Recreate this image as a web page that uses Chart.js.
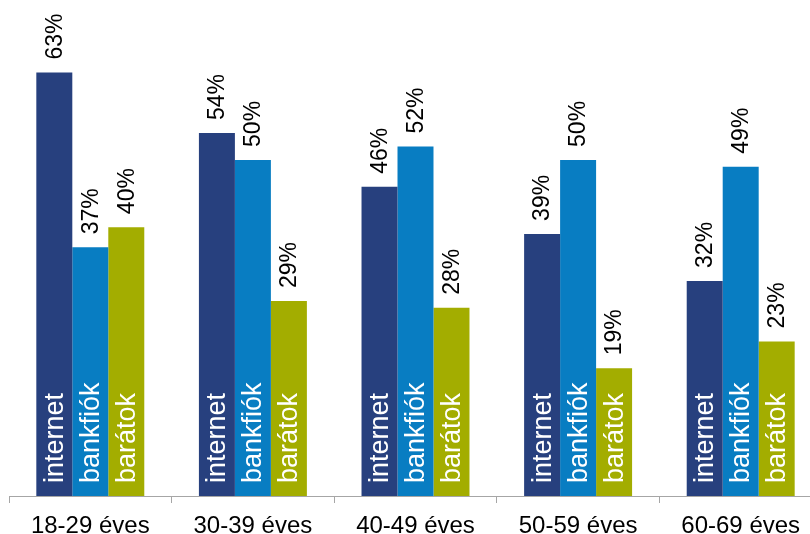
<!DOCTYPE html>
<html lang="hu">
<head>
  <meta charset="UTF-8">
  <title>Csatornák korcsoport szerint</title>
  <script src="https://cdn.jsdelivr.net/npm/chart.js"></script>
  <style>
    html, body {
      margin: 0;
      padding: 0;
      background: #fff;
      overflow: hidden;
    }
    /* a bit larger than the window: the last category runs past the right edge */
    #wrap {
      position: relative;
      width: 822px;
      height: 549px;
    }
  </style>
</head>
<body>
  <div id="wrap"><canvas id="chart"></canvas></div>

  <script>
    const categories = ['18-29 éves', '30-39 éves', '40-49 éves', '50-59 éves', '60-69 éves'];
    const seriesNames = ['internet', 'bankfiók', 'barátok'];
    const internetValues = [63, 54, 46, 39, 32];
    const bankfiokValues = [37, 50, 52, 50, 49];
    const baratokValues = [40, 29, 28, 19, 23];
    const seriesColors = ['#27407E', '#087DC2', '#A3AD00'];

    const fontFamily = 'Arial, "Liberation Sans", sans-serif';

    // percent labels above bars and series names inside bars, both rotated
    const barLabels = {
      id: 'barLabels',
      afterDatasetsDraw(chart) {
        const ctx = chart.ctx;
        chart.data.datasets.forEach((ds, i) => {
          const meta = chart.getDatasetMeta(i);
          meta.data.forEach((bar, j) => {
            ctx.save();
            ctx.translate(bar.x, bar.y - 13);
            ctx.rotate(-Math.PI / 2);
            ctx.font = '23px ' + fontFamily;
            ctx.fillStyle = '#000';
            ctx.textAlign = 'left';
            ctx.textBaseline = 'middle';
            ctx.fillText(ds.data[j] + '%', 0, 1);
            ctx.restore();

            ctx.save();
            ctx.translate(bar.x, bar.base - 13);
            ctx.rotate(-Math.PI / 2);
            ctx.font = '27px ' + fontFamily;
            ctx.fillStyle = '#fff';
            ctx.textAlign = 'left';
            ctx.textBaseline = 'middle';
            ctx.fillText(ds.label, 0, 1);
            ctx.restore();
          });
        });
      }
    };

    new Chart(document.getElementById('chart'), {
      type: 'bar',
      data: {
        labels: categories,
        datasets: [
          { label: seriesNames[0], data: internetValues, backgroundColor: seriesColors[0] },
          { label: seriesNames[1], data: bankfiokValues, backgroundColor: seriesColors[1] },
          { label: seriesNames[2], data: baratokValues, backgroundColor: seriesColors[2] }
        ]
      },
      options: {
        responsive: true,
        maintainAspectRatio: false,
        animation: false,
        layout: { padding: { left: 9, right: 0, top: 0, bottom: 0 } },
        datasets: {
          bar: { categoryPercentage: 0.664, barPercentage: 1 }
        },
        plugins: {
          legend: { display: false },
          tooltip: { enabled: false }
        },
        scales: {
          x: {
            grid: {
              display: true,
              drawOnChartArea: false,
              tickLength: 7,
              color: '#A6A6A6'
            },
            border: { display: true, color: '#A6A6A6', width: 1 },
            ticks: {
              color: '#000',
              padding: 11,
              font: { family: fontFamily, size: 24, lineHeight: 1 }
            }
          },
          y: {
            display: false,
            min: 0,
            max: 73.8
          }
        }
      },
      plugins: [barLabels]
    });
  </script>
</body>
</html>
